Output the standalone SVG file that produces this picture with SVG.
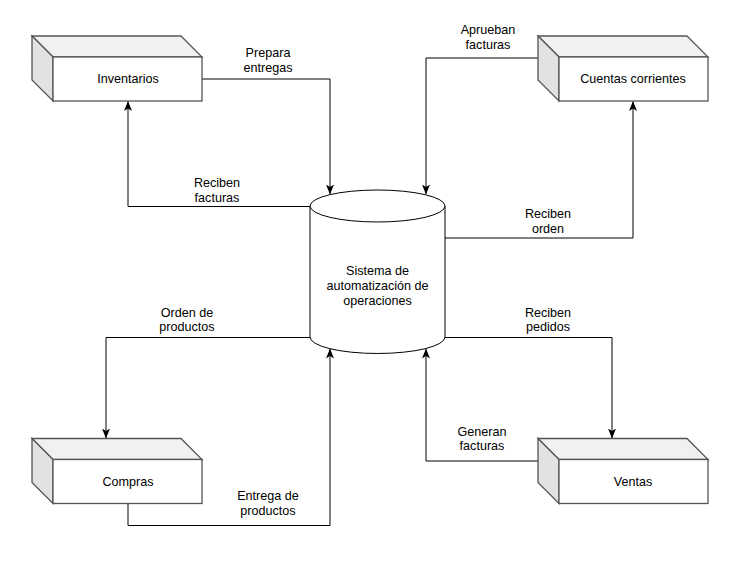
<svg xmlns="http://www.w3.org/2000/svg" width="749" height="574" viewBox="0 0 749 574">
<style>
text{font-family:"Liberation Sans",Arial,sans-serif;font-size:12.6px;fill:#000;text-anchor:middle}
.out{fill:none;stroke:#555;stroke-width:1.3}
.top{fill:#f1f1f1;stroke:#555;stroke-width:1.3}
.side{fill:#e2e2e2;stroke:#555;stroke-width:1.3}
.front{fill:#fff;stroke:#555;stroke-width:1.3}
.conn{fill:none;stroke:#000;stroke-width:1}
.cyl{fill:#fff;stroke:#000;stroke-width:1}
</style>
<defs>
<marker id="arr" markerUnits="userSpaceOnUse" viewBox="0 0 10 8" refX="9.5" refY="4" markerWidth="10" markerHeight="8" orient="auto">
<path d="M0,0 L10,4 L0,8 L2.5,4 Z" fill="#000"/>
</marker>
<g id="cube">
<path class="top" d="M0,0 L149,0 L170,21 L21,21 Z"/>
<path class="side" d="M0,0 L21,21 L21,65 L0,44 Z"/>
<rect class="front" x="21" y="21" width="149" height="44"/>
</g>
</defs>
<rect width="749" height="574" fill="#fff"/>
<g id="connectors">
<polyline class="conn" points="202,79 330,79 330,194" marker-end="url(#arr)"/>
<polyline class="conn" points="310,206.5 128,206.5 128,101.5" marker-end="url(#arr)"/>
<polyline class="conn" points="538,58 426,58 426,194" marker-end="url(#arr)"/>
<polyline class="conn" points="445,238 633,238 633,101.5" marker-end="url(#arr)"/>
<polyline class="conn" points="310,337.5 106,337.5 106,438" marker-end="url(#arr)"/>
<polyline class="conn" points="128,503.5 128,525.5 330,525.5 330,349" marker-end="url(#arr)"/>
<polyline class="conn" points="445,337.5 612,337.5 612,438" marker-end="url(#arr)"/>
<polyline class="conn" points="538,461 426,461 426,349" marker-end="url(#arr)"/>
<text x="268" y="57">Prepara</text><text x="268" y="72">entregas</text>
<text x="217" y="187">Reciben</text><text x="217" y="202">facturas</text>
<text x="488" y="34">Aprueban</text><text x="488" y="49">facturas</text>
<text x="548" y="218">Reciben</text><text x="548" y="233">orden</text>
<text x="187" y="317">Orden de</text><text x="187" y="331">productos</text>
<text x="548" y="317">Reciben</text><text x="548" y="331">pedidos</text>
<text x="482" y="436">Generan</text><text x="482" y="450">facturas</text>
<text x="268" y="500">Entrega de</text><text x="268" y="515">productos</text>
</g>
<g id="sistema">
<path class="cyl" d="M310,206 A67.5,16 0 0 1 445,206 L445,337 A67.5,16.5 0 0 1 310,337 Z"/>
<path class="cyl" fill="none" d="M310,206 A67.5,16 0 0 0 445,206"/>
<text x="377.5" y="274.5">Sistema de</text>
<text x="377.5" y="290">automatización de</text>
<text x="377.5" y="305">operaciones</text>
</g>
<g id="inventarios">
<use href="#cube" x="32" y="36"/>
<text x="128" y="83">Inventarios</text>
</g>
<g id="cuentas">
<use href="#cube" x="538" y="36"/>
<text x="633" y="83">Cuentas corrientes</text>
</g>
<g id="compras">
<use href="#cube" x="32" y="438.5"/>
<text x="128" y="486">Compras</text>
</g>
<g id="ventas">
<use href="#cube" x="538" y="438.5"/>
<text x="633" y="486">Ventas</text>
</g>
</svg>
